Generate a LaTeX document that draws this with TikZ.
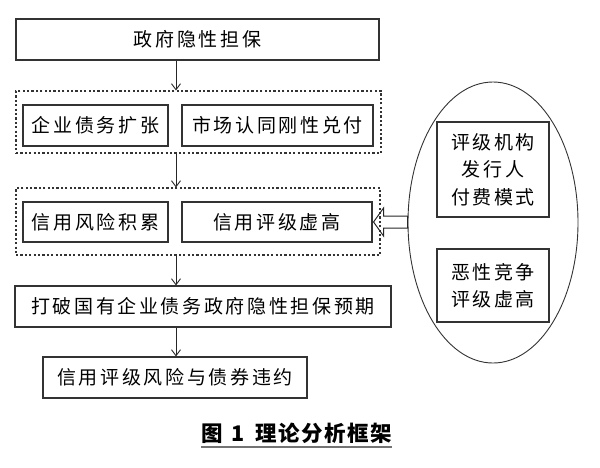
\documentclass[tikz,border=0pt]{standalone}
\usepackage{fontspec}
\setmainfont{Noto Sans CJK SC}
\newfontfamily\cjkfont[LetterSpace=14]{Noto Sans CJK SC}
\usetikzlibrary{arrows.meta,calc,shapes.geometric}
\tikzset{
  box/.style={draw=black!80, line width=1.1pt, rectangle, minimum height=41pt, inner sep=0pt,
    align=center, font=\cjkfont\fontsize{19}{27.5}\selectfont},
  group/.style={draw=black!80, line width=1.1pt, dash pattern=on 2.2pt off 2.2pt, rectangle, inner sep=0pt},
  arr/.style={-{Straight Barb[length=6pt,width=9pt]}, line width=0.9pt, draw=black!85},
}
\begin{document}
\begin{tikzpicture}[x=1pt,y=-1pt]
\useasboundingbox (0,0) rectangle (600,467);
\coordinate (ax) at (176,0);
% top
\node[box, minimum width=363pt] (top) at (197.5,39.5) {政府隐性担保};
% group 1
\node[group, minimum width=365pt, minimum height=62pt] (g1) at (198.5,122) {};
\node[box, minimum width=145pt] (a1) at (95.5,125.5) {企业债务扩张};
\node[box, minimum width=191pt] (a2) at (277.5,125.5) {市场认同刚性兑付};
% group 2
\node[group, minimum width=364pt, minimum height=67pt] (g2) at (198,221.5) {};
\node[box, minimum width=145pt, minimum height=40pt] (b1) at (95.5,222) {信用风险积累};
\node[box, minimum width=190pt, minimum height=40pt] (b2) at (277,222) {信用评级虚高};
% lower boxes
\node[box, minimum width=376pt] (c) at (203,306.5) {打破国有企业债务政府隐性担保预期};
\node[box, minimum width=264pt] (d) at (175,377.5) {信用评级风险与债券违约};
% ellipse
\node[ellipse, draw=black!80, line width=0.9pt, minimum width=170pt, minimum height=281pt, inner sep=0pt] (ell) at (493,222.5) {};
\node[box, minimum width=112pt, minimum height=95pt] (e1) at (493,169.5) {评级机构\\发行人\\付费模式};
\node[box, minimum width=112pt, minimum height=73pt] (e2) at (493,285.5) {恶性竞争\\评级虚高};
% arrows
\draw[arr] (top.south -| ax) -- (g1.north -| ax);
\draw[arr] (g1.south -| ax) -- (g2.north -| ax);
\draw[arr] (g2.south -| ax) -- (c.north -| ax);
\draw[arr] (c.south -| ax) -- (d.north -| ax);
% hollow arrow
\draw[line width=1pt, draw=black!85, line join=miter] ($(b2.east)+(1,0)$) -- ++(10,-14) -- ++(0,8) -- (ell.west |- 0,216) -- (ell.west |- 0,228) -- ($(b2.east)+(11,6)$) -- ++(0,8) -- cycle;
% caption
\node[inner sep=0pt, font=\bfseries\fontsize{21.5}{26}\selectfont] (cap) at (296.5,433) {图\hspace{9pt}1\hspace{10pt}理\hspace{1.5pt}论\hspace{1.5pt}分\hspace{1.5pt}析\hspace{1.5pt}框\hspace{1.5pt}架};
\draw[line width=2pt, black!55] ($(cap.south west)+(0,3.5)$) -- ($(cap.south east)+(0,3.5)$);
\end{tikzpicture}
\end{document}
